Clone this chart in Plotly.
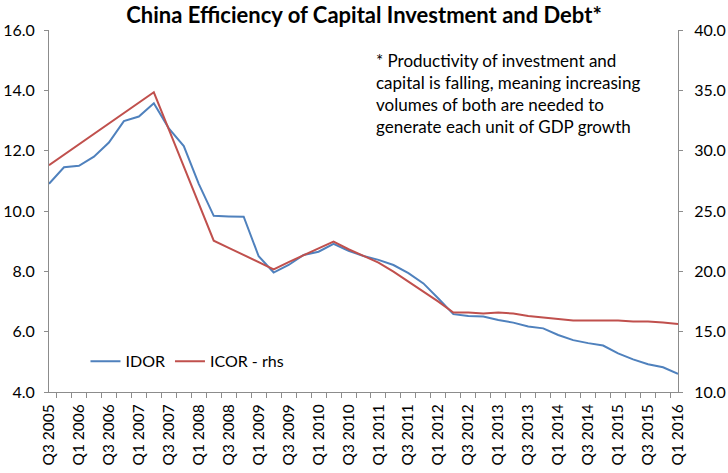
import plotly.graph_objects as go

quarters = [
    "Q3 2005", "Q4 2005",
    "Q1 2006", "Q2 2006", "Q3 2006", "Q4 2006",
    "Q1 2007", "Q2 2007", "Q3 2007", "Q4 2007",
    "Q1 2008", "Q2 2008", "Q3 2008", "Q4 2008",
    "Q1 2009", "Q2 2009", "Q3 2009", "Q4 2009",
    "Q1 2010", "Q2 2010", "Q3 2010", "Q4 2010",
    "Q1 2011", "Q2 2011", "Q3 2011", "Q4 2011",
    "Q1 2012", "Q2 2012", "Q3 2012", "Q4 2012",
    "Q1 2013", "Q2 2013", "Q3 2013", "Q4 2013",
    "Q1 2014", "Q2 2014", "Q3 2014", "Q4 2014",
    "Q1 2015", "Q2 2015", "Q3 2015", "Q4 2015",
    "Q1 2016",
]

idor = [10.9, 11.45, 11.5, 11.8, 12.27, 12.98, 13.13, 13.57, 12.74, 12.15,
        10.9, 9.84, 9.82, 9.81, 8.5, 7.96, 8.21, 8.54, 8.65, 8.91,
        8.68, 8.51, 8.38, 8.21, 7.94, 7.6, 7.1, 6.58, 6.52, 6.5,
        6.39, 6.30, 6.17, 6.11, 5.89, 5.72, 5.62, 5.54, 5.28, 5.08,
        4.92, 4.82, 4.60]

icor = [28.8, 29.66, 30.53, 31.39, 32.25, 33.12, 33.98, 34.84, 31.77, 28.69,
        25.62, 22.54, 21.95, 21.36, 20.76, 20.17, 20.77, 21.36, 21.9, 22.46,
        21.83, 21.28, 20.72, 19.98, 19.15, 18.32, 17.49, 16.58, 16.58, 16.5,
        16.58, 16.5, 16.3, 16.17, 16.03, 15.92, 15.92, 15.92, 15.92, 15.85,
        15.85, 15.75, 15.64]

# label every second quarter, tick mark at every quarter
tick_text = [q if i % 2 == 0 else "" for i, q in enumerate(quarters)]

FONT = "Lato"
AXIS_COL = "#8c8c8c"

fig = go.Figure()
fig.add_trace(go.Scatter(x=quarters, y=idor, name="IDOR", mode="lines",
                         line=dict(color="#4F81BD", width=2)))
fig.add_trace(go.Scatter(x=quarters, y=icor, name="ICOR - rhs", mode="lines",
                         line=dict(color="#C0504D", width=2), yaxis="y2"))

fig.update_layout(
    width=728, height=473,
    margin=dict(l=49, r=50, t=30, b=81, autoexpand=False),
    paper_bgcolor="white", plot_bgcolor="white",
    font=dict(family=FONT, size=16, color="black"),
    title=dict(text="<b>China Efficiency of Capital Investment and Debt*</b>",
               x=0.5, xanchor="center", y=1 - 15 / 473, yanchor="middle",
               yref="container", font=dict(family=FONT, size=22, color="black")),
    xaxis=dict(type="category", tickmode="array", tickvals=quarters,
               ticktext=tick_text, tickangle=-90, showgrid=False,
               tickson="boundaries",
               showline=True, linecolor=AXIS_COL, ticks="outside",
               ticklen=5, tickcolor=AXIS_COL, zeroline=False,
               ticklabelstandoff=5,
               automargin=False, tickfont=dict(size=15.5)),
    yaxis=dict(range=[4, 16], dtick=2, tickformat=".1f", showgrid=False,
               showline=True, linecolor=AXIS_COL, ticks="outside", ticklen=4,
               tickcolor=AXIS_COL, zeroline=False, automargin=False,
               ticklabelstandoff=6, tickfont=dict(size=16)),
    yaxis2=dict(range=[10, 40], dtick=5, tickformat=".1f", overlaying="y",
                side="right", showgrid=False, showline=True,
                linecolor=AXIS_COL, ticks="outside", ticklen=4,
                tickcolor=AXIS_COL, zeroline=False, automargin=False,
                ticklabelstandoff=8, tickfont=dict(size=16)),
    legend=dict(orientation="h", x=0.058, y=0.085, xanchor="left",
                yanchor="middle", bgcolor="rgba(0,0,0,0)",
                font=dict(size=16)),
    showlegend=True,
)

fig.add_annotation(
    text="* Productivity of investment and<br>capital is falling, meaning increasing"
         "<br>volumes of both are needed to<br>generate each unit of GDP growth",
    xref="paper", yref="paper", x=0.517, y=0.95, xanchor="left",
    yanchor="top", align="left", showarrow=False,
    font=dict(family=FONT, size=17, color="black"),
)

fig.write_html("out.html", config={"displayModeBar": False},
               post_script="document.body.style.margin='0';"
                           "document.documentElement.style.overflow='hidden';")
